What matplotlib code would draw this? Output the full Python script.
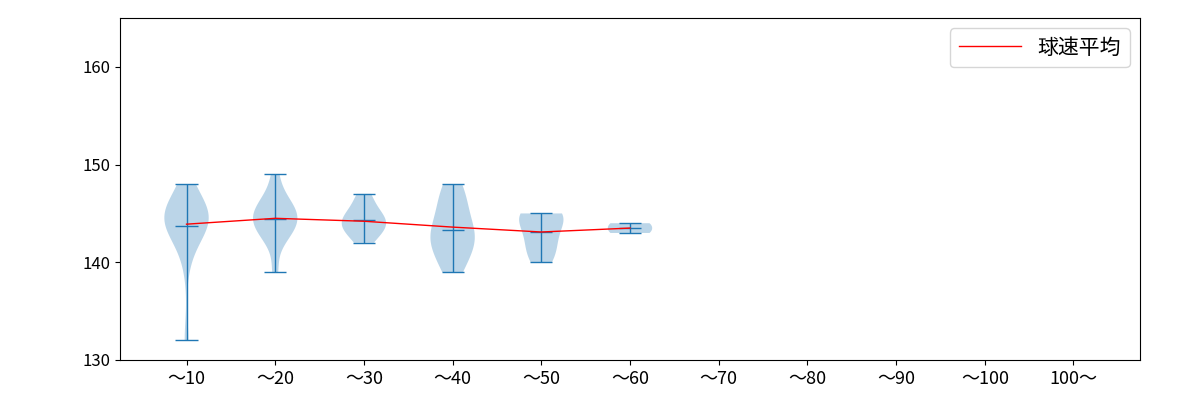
import matplotlib
matplotlib.use("Agg")
import matplotlib.pyplot as plt

plt.rcParams['font.family'] = ['Noto Sans CJK JP', 'DejaVu Sans']

labels = ["〜10", "〜20", "〜30", "〜40", "〜50", "〜60", "〜70", "〜80", "〜90", "〜100", "100〜"]
g1 = [132, 140, 142, 143, 143, 144, 144, 144, 144, 145, 145, 145, 145, 146, 146, 147, 148]
g2 = [139, 142, 143, 143, 144, 144, 144, 145, 145, 145, 146, 146, 147, 149]
g3 = [142, 143, 143, 144, 144, 144, 145, 145, 146, 147]
g4 = [139, 140, 141, 142, 142, 143, 143, 144, 145, 146, 147, 148]
g5 = [140, 141, 142, 143, 144, 145, 145, 145]
g6 = [143, 144]
groups = [g1, g2, g3, g4, g5, g6]
means = [143.9, 144.5, 144.2, 143.6, 143.1, 143.5]

fig, ax = plt.subplots(figsize=(12, 4), dpi=100)
fig.subplots_adjust(left=0.1, right=0.95, top=0.955, bottom=0.1)
pos = list(range(1, len(groups) + 1))
parts = ax.violinplot(groups, positions=pos, showmeans=True, showextrema=True)
for k in ('cbars', 'cmins', 'cmaxes', 'cmeans'):
    parts[k].set_linewidth(1)
ax.plot(pos, means, color='red', lw=1, label='球速平均')
ax.set_xticks(range(1, len(labels) + 1))
ax.set_xticklabels(labels, fontsize=13)
ax.set_xlim(0.25, 11.75)
ax.set_ylim(130, 165)
ax.set_yticks([130, 140, 150, 160])
ax.tick_params(axis='y', labelsize=12)
ax.legend(loc='upper right', fontsize=15, handlelength=3)
fig.savefig("out.png")
